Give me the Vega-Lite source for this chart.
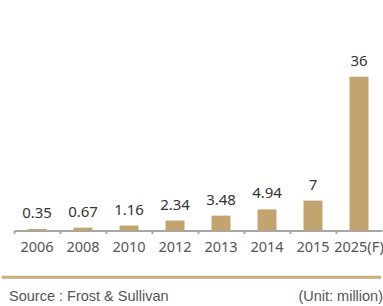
{
  "$schema": "https://vega.github.io/schema/vega-lite/v6.json",
  "width": 383,
  "height": 306,
  "autosize": {"type": "fit", "contains": "padding"},
  "padding": 0,
  "background": "white",
  "config": {"view": {"stroke": null}},
  "data": {
    "values": [
      {"year": "2006", "value": 0.35},
      {"year": "2008", "value": 0.67},
      {"year": "2010", "value": 1.16},
      {"year": "2012", "value": 2.34},
      {"year": "2013", "value": 3.48},
      {"year": "2014", "value": 4.94},
      {"year": "2015", "value": 7},
      {"year": "2025(F)", "value": 36}
    ]
  },
  "layer": [
    {
      "mark": {"type": "bar", "color": "#c4a46e", "size": 19},
      "encoding": {
        "x": {
          "field": "year",
          "type": "nominal",
          "sort": null,
          "scale": {"range": [12, 380], "paddingInner": 0, "paddingOuter": 0},
          "axis": {
            "title": null,
            "offset": -75.5,
            "bandPosition": 0,
            "domainColor": "#a6a6a6",
            "domainWidth": 2,
            "tickColor": "#a6a6a6",
            "tickWidth": 2,
            "tickSize": 3,
            "labelFont": "Noto Sans",
            "labelFontSize": 14.5,
            "labelColor": "#555555",
            "labelPadding": 7,
            "labelAngle": 0,
            "labelOverlap": false,
            "labelBound": false,
            "grid": false
          }
        },
        "y": {
          "field": "value",
          "type": "quantitative",
          "scale": {"domain": [-17.67, 53.95], "nice": false, "zero": false},
          "axis": null
        },
        "y2": {"datum": 0}
      }
    },
    {
      "mark": {"type": "text", "dy": -11, "baseline": "alphabetic", "fontSize": 15, "font": "Noto Sans", "color": "#333333"},
      "encoding": {
        "x": {"field": "year", "type": "nominal", "sort": null},
        "y": {"field": "value", "type": "quantitative"},
        "text": {"field": "value", "type": "quantitative"}
      }
    },
    {
      "data": {"values": [{}]},
      "mark": {"type": "rule", "color": "#c9ab7b", "strokeWidth": 3},
      "encoding": {"y": {"datum": -10.95, "type": "quantitative"}}
    },
    {
      "data": {"values": [{}]},
      "mark": {"type": "text", "align": "left", "baseline": "middle", "dx": -5, "fontSize": 14.5, "font": "Liberation Sans", "color": "#555555", "text": "Source : Frost & Sullivan"},
      "encoding": {
        "x": {"datum": "2006", "type": "nominal", "bandPosition": 0},
        "y": {"datum": -15.68, "type": "quantitative"}
      }
    },
    {
      "data": {"values": [{}]},
      "mark": {"type": "text", "align": "right", "baseline": "middle", "dx": 1, "fontSize": 14.5, "font": "Liberation Sans", "color": "#555555", "text": "(Unit: million)"},
      "encoding": {
        "x": {"datum": "2025(F)", "type": "nominal", "bandPosition": 1},
        "y": {"datum": -15.68, "type": "quantitative"}
      }
    }
  ]
}
